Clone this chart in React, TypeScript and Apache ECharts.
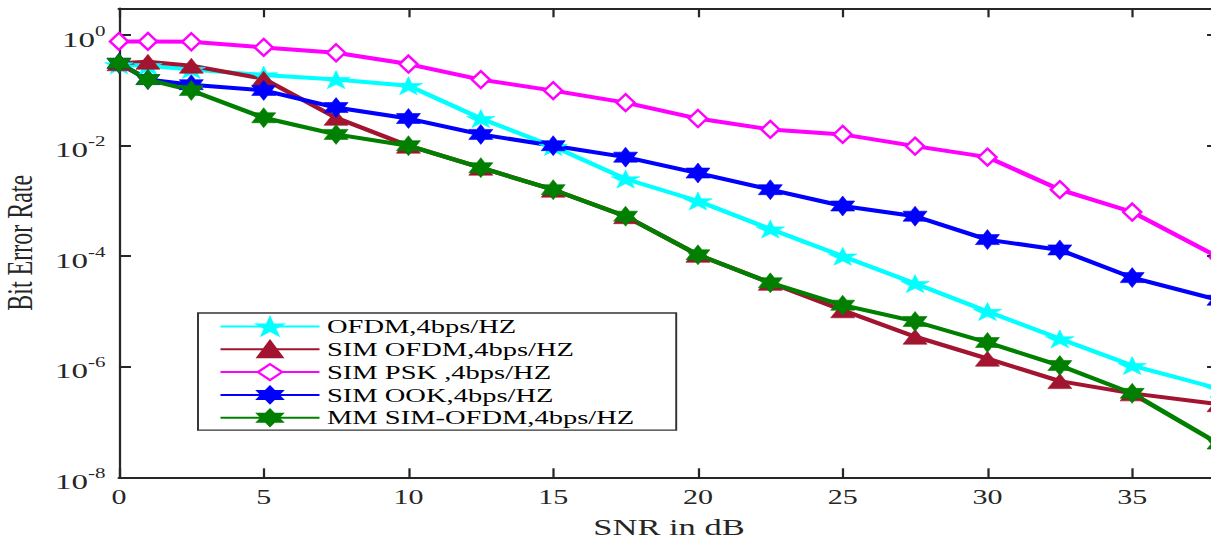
import React, { useEffect, useRef } from 'react';
import * as echarts from 'echarts';

// ---------------- data ----------------
const snr = [0, 1, 2.5, 5, 7.5, 10, 12.5, 15, 17.5, 20, 22.5, 25, 27.5, 30, 32.5, 35, 38];

const ofdm = [0.29, 0.28, 0.24, 0.19, 0.157, 0.122, 0.031, 0.0097, 0.0025, 0.001, 3.1e-4, 1e-4, 3.2e-5, 1e-5, 3.2e-6, 1.05e-6, 4e-7];
const simOfdm = [0.31, 0.33, 0.28, 0.163, 0.032, 0.01, 0.004, 0.0016, 5.3e-4, 1.06e-4, 3.3e-5, 1.05e-5, 3.5e-6, 1.4e-6, 5.5e-7, 3.3e-7, 2.1e-7];
const simPsk = [0.77, 0.77, 0.76, 0.6, 0.48, 0.3, 0.157, 0.099, 0.06, 0.031, 0.0197, 0.016, 0.0098, 0.0062, 0.0016, 6.3e-4, 9.5e-5];
const simOok = [0.31, 0.157, 0.127, 0.1, 0.049, 0.031, 0.016, 0.01, 0.0062, 0.0032, 0.0016, 8.1e-4, 5.3e-4, 2.0e-4, 1.3e-4, 4.1e-5, 1.6e-5];
const mmSimOfdm = [0.31, 0.157, 0.1, 0.032, 0.016, 0.01, 0.004, 0.0016, 5.3e-4, 1.06e-4, 3.3e-5, 1.3e-5, 6.6e-6, 2.75e-6, 1.05e-6, 3.3e-7, 4e-8];

const seriesNames = [
  'OFDM,4bps/HZ',
  'SIM OFDM,4bps/HZ',
  'SIM PSK ,4bps/HZ',
  'SIM OOK,4bps/HZ',
  'MM SIM-OFDM,4bps/HZ',
];

const yTicks = [1e-8, 1e-6, 1e-4, 1e-2, 1];
const xMin = 0;
const xMax = 38;
const xStep = 5;
const yMin = 1e-8;
const yMax = 3.06;

// ---------------- style ----------------
const STRETCH = 1.5;
const W = 820;
const H = 541;
const FONT = '"Liberation Serif", "Times New Roman", serif';
const AXIS = '#262626';

const STAR = 'path://M50 0L61.2 34.6L97.6 34.5L68.1 55.9L79.4 90.5L50 69L20.6 90.5L31.9 55.9L2.4 34.5L38.8 34.6Z';
const HEX = 'path://M50 0L64.4 25L93.3 25L78.9 50L93.3 75L64.4 75L50 100L35.6 75L6.7 75L21.1 50L6.7 25L35.6 25Z';

const pairs = (ys: number[]) => snr.map((x, i) => [x, ys[i]]);

function buildOption() {
  const styles = [
    { data: ofdm, color: '#00FFFF', symbol: STAR, size: [19, 18], empty: false },
    { data: simOfdm, color: '#A2142F', symbol: 'triangle', size: [16, 15], empty: false },
    { data: simPsk, color: '#FF00FF', symbol: 'emptyDiamond', size: [12, 17], empty: true },
    { data: simOok, color: '#0000FF', symbol: HEX, size: [16, 20], empty: false },
    { data: mmSimOfdm, color: '#007F00', symbol: HEX, size: [16, 20], empty: false },
  ];
  const series = styles.map((s, i) => ({
    name: seriesNames[i],
    type: 'line',
    data: pairs(s.data),
    symbol: s.symbol,
    symbolSize: s.size,
    showAllSymbol: true,
    lineStyle: { color: s.color, width: 4 },
    itemStyle: s.empty
      ? { color: s.color, borderColor: s.color, borderWidth: 3 }
      : { color: s.color, borderColor: s.color, borderWidth: 0.5 },
    emphasis: { disabled: true },
    xAxisIndex: 0,
    yAxisIndex: 0,
  }));

  const tickLabelStyle = { fontFamily: FONT, fontSize: 20, color: AXIS };

  return {
    animation: false,
    backgroundColor: '#ffffff',
    grid: {
      left: 79.3,
      right: 7.3,
      top: 8.3,
      bottom: 63.7,
      containLabel: false,
      outerBoundsMode: 'none',
    },
    legend: {
      orient: 'vertical',
      left: 132,
      top: 313,
      itemWidth: 66,
      itemHeight: 20,
      itemGap: 3.8,
      padding: [4, 28, 3, 14],
      borderColor: '#333333',
      borderWidth: 1.3,
      backgroundColor: '#ffffff',
      textStyle: { fontFamily: FONT, fontSize: 19, color: '#000000' },
      data: seriesNames,
    },
    xAxis: [
      {
        type: 'value',
        position: 'bottom',
        min: xMin,
        max: xMax,
        interval: xStep,
        name: 'SNR in dB',
        nameLocation: 'middle',
        nameGap: 41,
        nameTextStyle: { fontFamily: FONT, fontSize: 23, lineHeight: 18, color: AXIS },
        axisLine: { show: true, onZero: false, lineStyle: { color: AXIS, width: 2 } },
        axisTick: { show: true, inside: true, length: 9, lineStyle: { color: AXIS, width: 1.5 } },
        axisLabel: { ...tickLabelStyle, margin: 10, showMaxLabel: false },
        splitLine: { show: false },
      },
      {
        type: 'value',
        position: 'top',
        min: xMin,
        max: xMax,
        interval: xStep,
        axisLine: { show: true, onZero: false, lineStyle: { color: AXIS, width: 2 } },
        axisTick: { show: true, inside: true, length: 9, lineStyle: { color: AXIS, width: 1.5 } },
        axisLabel: { show: false },
        splitLine: { show: false },
      },
    ],
    yAxis: [
      {
        type: 'log',
        logBase: 10,
        position: 'left',
        min: yMin,
        max: yMax,
        name: 'Bit Error Rate',
        nameLocation: 'middle',
        nameGap: 52,
        nameTextStyle: { fontFamily: FONT, fontSize: 24, color: AXIS },
        axisLine: { show: true, onZero: false, lineStyle: { color: AXIS, width: 1.5 } },
        axisTick: { show: true, inside: true, length: 8, customValues: yTicks, lineStyle: { color: AXIS, width: 2 } },
        axisLabel: {
          customValues: yTicks,
          margin: 9,
          formatter: (v: number) => `{b|10}{s|${Math.round(Math.log10(v))}}`,
          rich: {
            b: { fontFamily: FONT, fontSize: 22, lineHeight: 22, color: AXIS, padding: [8, 0, 0, 0] },
            s: { fontFamily: FONT, fontSize: 14, lineHeight: 14, color: AXIS, verticalAlign: 'top' },
          },
        },
        splitLine: { show: false },
      },
      {
        type: 'log',
        logBase: 10,
        position: 'right',
        min: yMin,
        max: yMax,
        axisLine: { show: true, onZero: false, lineStyle: { color: AXIS, width: 1.5 } },
        axisTick: { show: true, inside: true, length: 8, customValues: yTicks, lineStyle: { color: AXIS, width: 2 } },
        axisLabel: { show: false },
        splitLine: { show: false },
      },
    ],
    series,
  };
}

export default function App() {
  const ref = useRef<HTMLDivElement>(null);
  useEffect(() => {
    if (!ref.current) return;
    const chart = echarts.init(ref.current, null, { renderer: 'svg' });
    chart.setOption(buildOption() as any);
    return () => chart.dispose();
  }, []);
  return (
    <div
      ref={ref}
      style={{
        position: 'fixed',
        left: 0,
        top: 0,
        width: W,
        height: H,
        transform: `scaleX(${STRETCH})`,
        transformOrigin: '0 0',
        background: '#ffffff',
      }}
    />
  );
}
